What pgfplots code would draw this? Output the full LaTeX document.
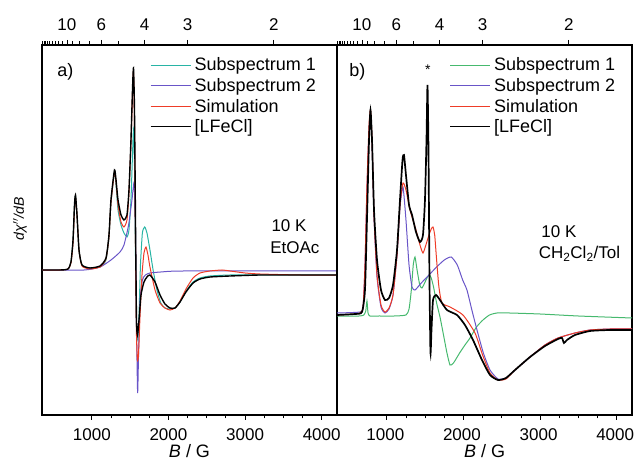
\documentclass[border=0pt]{standalone}
\usepackage{fontspec}
\setmainfont{Liberation Sans}
\usepackage{pgfplots}
\pgfplotsset{compat=1.18}
\definecolor{cteal}{RGB}{40,180,165}
\definecolor{cgreen}{RGB}{70,185,110}
\definecolor{cpurp}{RGB}{105,85,200}
\definecolor{cred}{RGB}{238,60,40}
\pgfplotsset{
  panel/.style={scale only axis, width=295pt, height=370pt,
    xmin=350, xmax=4200, ymin=0, ymax=370,
    ytick=\empty, xtick={1000,2000,3000,4000}, minor x tick num=3,
    tick align=outside, xtick pos=left,
    axis line style={line width=1.2pt},
    major tick length=5pt, minor tick length=3.5pt,
    every tick/.style={black, line width=0.8pt},
    tick label style={font=\fontsize{17}{20}\selectfont},
    xticklabel style={yshift=-5pt},
    /pgf/number format/assume math mode=true,
    /pgf/number format/1000 sep={},
    xlabel={\textit{B} / G},
    xlabel style={font=\fontsize{18}{20}\selectfont, yshift=3pt},
    legend cell align=left,
    legend style={draw=none, fill=none, font=\fontsize{18}{21}\selectfont,
      anchor=north west, row sep=3pt, column sep=2pt, nodes={inner sep=1.5pt}},
  },
  topg/.style={scale only axis, width=295pt, height=370pt,
    xmin=350, xmax=4200, ymin=0, ymax=370,
    axis x line*=top, axis y line=none,
    axis line style={line width=1.2pt},
    tick align=outside,
    xtick={675,1125,1687.5,2250,3375},
    xticklabels={10,6,4,3,2},
    minor xtick={355.3,375,397.1,421.9,450,482.1,519.2,562.5,613.6,750,843.75,964.3,1350},
    major tick length=5pt, minor tick length=3.5pt,
    every tick/.style={black, line width=0.8pt},
    tick label style={font=\fontsize{17}{20}\selectfont},
    xticklabel style={yshift=6pt},
    /pgf/number format/assume math mode=true,
  },
}
\begin{document}
\begin{tikzpicture}
\useasboundingbox (0pt,0pt) rectangle (634pt,462pt);

% ---------------- panel a ----------------
\begin{axis}[panel, at={(42pt,47pt)}, anchor=south west,
  ylabel={\textit{dχ}$''$\textit{/dB}},
  ylabel style={font=\fontsize{14}{16}\selectfont, at={(rel axis cs:-0.075,0.53)}, anchor=center},
  legend style={at={(rel axis cs:0.355,0.975)}},
  legend image code/.code={\draw[#1, line width=1.3pt] (0pt,0pt)--(40pt,0pt);}]
\addplot[cteal, line width=1pt, smooth, tension=0.35] coordinates {
(350,145)(585,145)(689,146)(728,153)(755,175)(774,209)(787,219)(807,200)(833,165)(872,150)(976,147)(1107,148)(1185,155)(1224,178)(1250,212)(1296,243)(1316,230)(1342,205)(1381,190)(1420,182)(1459,178)(1485,185)(1511,215)(1531,260)(1544,285)(1557,250)(1570,160)(1583,90)(1600,75)(1616,100)(1635,150)(1660,182)(1690,188)(1720,182)(1759,165)(1800,145)(1850,125)(1900,112)(1955,107)(2020,106)(2086,107)(2151,113)(2229,124)(2321,133)(2412,137)(2542,139)(2803,140)(3195,140)(3717,140)(4200,140)};
\addlegendentry{Subspectrum 1}
\addplot[cpurp, line width=1pt, smooth, tension=0.35] coordinates {
(350,145)(900,145)(1107,148)(1250,155)(1368,163)(1420,170)(1480,190)(1524,215)(1552,232)(1570,185)(1585,80)(1598,22)(1610,60)(1630,115)(1660,135)(1700,140)(1760,142)(1900,143)(2200,144)(4200,144)};
\addlegendentry{Subspectrum 2}
\addplot[cred, line width=1pt, smooth, tension=0.35] coordinates {
(350,145)(585,145)(689,146)(728,152)(755,172)(774,207)(787,218)(807,200)(833,165)(872,149)(976,146)(1107,148)(1185,156)(1224,178)(1250,212)(1296,243)(1316,233)(1342,210)(1381,193)(1420,188)(1459,195)(1485,222)(1511,272)(1531,322)(1544,343)(1557,290)(1570,170)(1583,80)(1596,55)(1609,60)(1630,100)(1655,140)(1681,162)(1707,168)(1733,160)(1759,148)(1825,125)(1890,112)(1955,107)(2020,105)(2086,107)(2151,114)(2229,126)(2321,137)(2412,142)(2542,144)(2700,145)(2803,144)(3000,142)(3195,141)(3717,140)(4200,140)};
\addlegendentry{Simulation}
\addplot[black, line width=1.4pt, smooth, tension=0.35] coordinates {
(350,145)(585,145)(689,146)(728,153)(755,175)(774,210)(787,220)(807,200)(833,165)(872,150)(976,147)(1107,149)(1185,157)(1224,180)(1250,215)(1296,245)(1316,235)(1342,215)(1381,200)(1420,195)(1459,200)(1485,225)(1511,275)(1531,325)(1544,347)(1557,305)(1570,195)(1583,95)(1596,80)(1616,95)(1642,120)(1681,133)(1720,138)(1759,140)(1825,133)(1890,120)(1955,111)(2020,107)(2086,107)(2151,113)(2229,123)(2321,132)(2412,136)(2542,138)(2803,139)(3195,140)(3717,140)(4200,140)};
\addlegendentry{[LFeCl]}
\node[anchor=west, font=\fontsize{18}{20}\selectfont] at (rel axis cs:0.040,0.927) {a)};
\node[anchor=west, font=\fontsize{17}{20}\selectfont] at (rel axis cs:0.766,0.511) {10 K};
\node[anchor=west, font=\fontsize{17}{20}\selectfont] at (rel axis cs:0.762,0.451) {EtOAc};
\end{axis}
\begin{axis}[topg, at={(42pt,47pt)}, anchor=south west]
\node[font=\fontsize{18}{20}\selectfont] at (axis cs:2660,370) [yshift=23pt] {\textit{g}\textsuperscript{\fontsize{8}{9}\selectfont eff}};
\end{axis}

% ---------------- panel b ----------------
\begin{axis}[panel, at={(337pt,47pt)}, anchor=south west,
  xticklabel style={xshift=-1.5pt},
  legend style={at={(rel axis cs:0.37,0.975)}},
  legend image code/.code={\draw[#1, line width=1.3pt] (0pt,0pt)--(40pt,0pt);}]
\addplot[cgreen, line width=1pt, smooth, tension=0.35] coordinates {
(350,99)(640,99)(700,100)(725,104)(741,114)(755,102)(780,99)(900,99)(1100,99)(1250,100)(1290,106)(1320,125)(1345,150)(1368,158)(1395,145)(1430,130)(1459,127)(1500,133)(1530,138)(1557,140)(1580,137)(1610,128)(1650,112)(1694,98)(1740,80)(1785,62)(1825,50)(1870,52)(1950,62)(2020,70)(2086,77)(2170,88)(2255,95)(2340,100)(2438,102)(2600,102)(3000,101)(3500,99)(4200,97)};
\addlegendentry{Subspectrum 1}
\addplot[cpurp, line width=1pt, smooth, tension=0.35] coordinates {
(350,102)(650,103)(690,108)(715,148)(741,225)(768,285)(787,300)(807,272)(833,198)(872,138)(924,108)(976,102)(1029,106)(1081,120)(1133,160)(1172,208)(1211,228)(1250,195)(1290,150)(1329,128)(1368,125)(1450,132)(1550,140)(1650,148)(1750,155)(1840,158)(1920,150)(1990,135)(2046,125)(2110,105)(2177,85)(2260,62)(2347,45)(2451,36)(2555,37)(2673,45)(2869,58)(3064,70)(3234,77)(3456,82)(3652,85)(3913,86)(4200,86)};
\addlegendentry{Subspectrum 2}
\addplot[cred, line width=1pt, smooth, tension=0.35] coordinates {
(350,100)(585,101)(650,102)(690,108)(715,150)(741,230)(768,290)(787,305)(807,275)(833,200)(872,140)(924,110)(976,103)(1029,107)(1081,120)(1133,160)(1172,210)(1211,232)(1250,225)(1303,205)(1381,185)(1433,170)(1472,162)(1510,170)(1550,180)(1580,186)(1603,188)(1625,180)(1650,155)(1680,128)(1720,112)(1825,108)(1994,100)(2151,82)(2250,60)(2347,42)(2451,35)(2555,36)(2673,45)(2869,58)(3064,70)(3234,77)(3456,82)(3652,85)(3913,86)(4200,86)};
\addlegendentry{Simulation}
\addplot[black, line width=1.7pt, smooth, tension=0.35] coordinates {
(350,100)(585,101)(676,103)(715,125)(741,195)(768,275)(787,305)(807,275)(833,205)(872,155)(924,125)(976,115)(1029,117)(1081,130)(1133,165)(1172,215)(1205,255)(1224,260)(1250,240)(1290,210)(1329,200)(1381,183)(1433,173)(1472,180)(1498,215)(1518,275)(1531,330)(1544,265)(1557,135)(1570,62)(1583,85)(1603,115)(1642,120)(1694,115)(1785,105)(1916,100)(2020,90)(2125,75)(2242,55)(2347,40)(2451,35)(2555,37)(2673,45)(2869,58)(3064,69)(3234,76)(3286,77)(3312,72)(3351,75)(3456,80)(3652,84)(3913,85)(4200,85)};
\addlegendentry{[LFeCl]}
\node[anchor=west, font=\fontsize{18}{20}\selectfont] at (rel axis cs:0.030,0.927) {b)};
\node[font=\fontsize{14}{16}\selectfont] at (axis cs:1535,345) {*};
\node[anchor=west, font=\fontsize{17}{20}\selectfont] at (rel axis cs:0.681,0.495) {10 K};
\node[anchor=west, font=\fontsize{17}{20}\selectfont] at (rel axis cs:0.672,0.435) {CH\textsubscript{2}Cl\textsubscript{2}/Tol};
\end{axis}
\begin{axis}[topg, at={(337pt,47pt)}, anchor=south west]
\node[font=\fontsize{18}{20}\selectfont] at (axis cs:2660,370) [yshift=23pt] {\textit{g}\textsuperscript{\fontsize{8}{9}\selectfont eff}};
\end{axis}
\end{tikzpicture}
\end{document}
